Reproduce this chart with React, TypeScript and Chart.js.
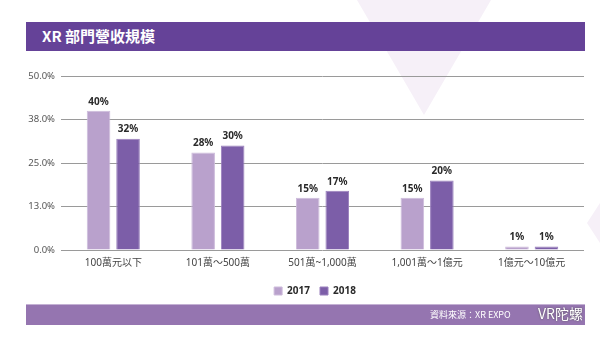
import React, { useEffect, useRef } from "react";
import { Chart, registerables } from "chart.js";

Chart.register(...registerables);

const categories = ["100萬元以下", "101萬～500萬", "501萬~1,000萬", "1,001萬～1億元", "1億元～10億元"];
const series2017 = [40, 28, 15, 15, 1];
const series2018 = [32, 30, 17, 20, 1];
const yTicks = [0, 12.5, 25, 37.5, 50];
const seriesNames = ["2017", "2018"];
const titleText = "XR 部門營收規模";
const sourceText = "資料來源：XR EXPO";
const watermarkText = "VR陀螺";

const C2017 = "#b9a1cc";
const C2018 = "#7c5ea8";
const FONT = '"Noto Sans", "Noto Sans CJK TC", sans-serif';

const valueLabels = {
  id: "valueLabels",
  afterDatasetsDraw(chart: any) {
    const ctx = chart.ctx;
    ctx.save();
    ctx.font = `bold 10px ${FONT}`;
    ctx.fillStyle = "#2a2a2a";
    ctx.textAlign = "center";
    ctx.textBaseline = "bottom";
    chart.data.datasets.forEach((ds: any, i: number) => {
      const meta = chart.getDatasetMeta(i);
      meta.data.forEach((el: any, j: number) => {
        ctx.fillText(Math.round(ds.data[j]) + "%", el.x, el.y - 4);
      });
    });
    ctx.restore();
  },
};

const shiftLegend = {
  id: "shiftLegend",
  afterLayout(chart: any) {
    if (chart.legend) {
      chart.legend.left += 23;
      chart.legend.right += 23;
    }
  },
};

export default function App() {
  const ref = useRef<HTMLCanvasElement | null>(null);
  useEffect(() => {
    if (!ref.current) return;
    const chart = new Chart(ref.current, {
      type: "bar",
      data: {
        labels: categories,
        datasets: [
          {
            label: seriesNames[0],
            data: series2017,
            backgroundColor: C2017,
            borderColor: "#cdbbdb",
            borderWidth: 1,
            categoryPercentage: 0.564,
            barPercentage: 0.8,
          },
          {
            label: seriesNames[1],
            data: series2018,
            backgroundColor: C2018,
            borderColor: "#9a80bd",
            borderWidth: 1,
            categoryPercentage: 0.564,
            barPercentage: 0.8,
          },
        ],
      },
      options: {
        animation: false,
        responsive: false,
        maintainAspectRatio: false,
        layout: { padding: { top: 76, left: 0, right: 16, bottom: 32 } },
        plugins: {
          tooltip: { enabled: false },
          legend: {
            position: "bottom",
            labels: {
              boxWidth: 8,
              boxHeight: 8,
              padding: 10,
              color: "#2a2a2a",
              font: { family: FONT, size: 10, weight: "bold" },
            },
          },
        },
        scales: {
          x: {
            grid: { display: false, drawTicks: false },
            border: { display: false },
            ticks: {
              color: "#444",
              padding: 7,
              font: { family: FONT, size: 10 },
              maxRotation: 0,
              autoSkip: false,
            },
            afterFit: (s: any) => {
              s.height = 26;
            },
          },
          y: {
            min: 0,
            max: 50,
            afterBuildTicks: (s: any) => {
              s.ticks = yTicks.map((v) => ({ value: v }));
            },
            grid: { color: "#9a9a9a", lineWidth: 1, drawTicks: false },
            border: { display: false },
            ticks: {
              color: "#555",
              padding: 6,
              font: { family: FONT, size: 9.5 },
              callback: (v: any) => Math.round(Number(v)).toFixed(1) + "%",
            },
            afterFit: (s: any) => {
              s.width = 61;
            },
          },
        },
      },
      plugins: [valueLabels, shiftLegend],
    });
    return () => chart.destroy();
  }, []);

  return (
    <div
      style={{
        position: "fixed",
        left: 0,
        top: 0,
        width: 600,
        height: 338,
        background: "#ffffff",
        overflow: "hidden",
        fontFamily: FONT,
      }}
    >
      <div
        style={{
          position: "absolute",
          left: 0,
          top: 0,
          width: 600,
          height: 338,
          background: "#f6f0f8",
          clipPath: "polygon(357px 0px, 491px 0px, 424px 115px)",
        }}
      />
      <div
        style={{
          position: "absolute",
          left: 0,
          top: 0,
          width: 600,
          height: 338,
          background: "#f6f0f8",
          clipPath: "polygon(587px 223px, 600px 203px, 600px 243px)",
        }}
      />
      <div
        style={{
          position: "absolute",
          left: 26,
          top: 22,
          width: 559,
          height: 29,
          background: "#654298",
        }}
      >
        <span
          style={{
            position: "absolute",
            left: 16,
            top: 4,
            color: "#ffffff",
            fontSize: 15,
            fontWeight: "bold",
            lineHeight: "20px",
            fontFamily: '"Noto Sans CJK TC", sans-serif',
          }}
        >
          {titleText}
        </span>
      </div>
      <canvas
        ref={ref}
        width={600}
        height={338}
        style={{ position: "absolute", left: 0, top: 0, width: 600, height: 338 }}
      />
      <div
        style={{
          position: "absolute",
          left: 26,
          top: 304,
          width: 559,
          height: 21,
          background: "#9575b0",
          borderTop: "1px solid #c4b1d4",
          boxSizing: "border-box",
        }}
      >
        <span
          style={{
            position: "absolute",
            left: 404,
            top: 3,
            color: "#ffffff",
            fontSize: 9,
            lineHeight: "13px",
            fontFamily: '"Noto Sans CJK TC", sans-serif',
          }}
        >
          {sourceText}
        </span>
        <span
          style={{
            position: "absolute",
            left: 512,
            top: -2,
            color: "#ffffff",
            fontSize: 14,
            lineHeight: "20px",
            textShadow: "0 0 2px #555",
            fontFamily: '"Noto Sans CJK TC", sans-serif',
          }}
        >
          {watermarkText}
        </span>
      </div>
    </div>
  );
}
